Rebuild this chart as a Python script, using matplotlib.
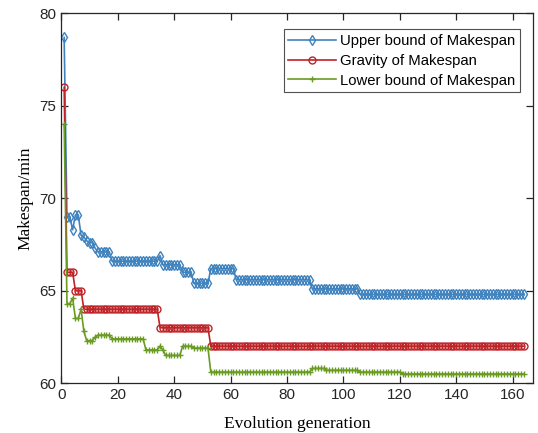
import matplotlib
matplotlib.use('Agg')
import matplotlib.pyplot as plt
import numpy as np

# run-length values (value, number of generations)
upper_vals = [78.7, 69.0, 69.0, 68.3, 69.1, 69.1, 68.0, 67.9, 67.7, 67.6, 67.6, 67.3,
              67.1, 66.6, 66.9, 66.4, 66.0, 65.4, 66.2, 65.6, 65.1, 64.8]
upper_counts = [1, 1, 1, 1, 1, 1, 1, 1, 1, 1, 1, 1,
                5, 17, 1, 7, 4, 6, 9, 27, 17, 59]

gravity_vals = [76.0, 66.0, 65.0, 64.0, 63.0, 62.0]
gravity_counts = [1, 3, 3, 27, 18, 112]

lower_vals = [74.0, 64.3, 64.3, 64.6, 63.5, 63.5, 64.0, 62.8, 62.3, 62.5, 62.6, 62.4,
              61.8, 62.0, 61.8, 61.5, 62.0, 61.9, 60.6, 60.8, 60.7, 60.6, 60.5]
lower_counts = [1, 1, 1, 1, 1, 1, 1, 1, 3, 1, 5, 12,
                5, 1, 1, 6, 4, 6, 36, 5, 12, 15, 44]

x_ticks = [0, 20, 40, 60, 80, 100, 120, 140, 160]
y_ticks = [60, 65, 70, 75, 80]

upper = np.repeat(upper_vals, upper_counts)
gravity = np.repeat(gravity_vals, gravity_counts)
lower = np.repeat(lower_vals, lower_counts)
gens = np.arange(1, len(upper) + 1)

plt.rcParams['font.family'] = 'Liberation Sans'
fig = plt.figure(figsize=(5.38, 4.33), dpi=100)
fig.patch.set_facecolor('white')
ax = fig.add_axes([0.114, 0.115, 0.877, 0.854])

ax.plot(gens, upper, color='#3E82BE', lw=1.2, marker='d', ms=5.5, mfc='none', mew=1.0,
        label='Upper bound of Makespan')
ax.plot(gens, gravity, color='#BE2328', lw=1.2, marker='o', ms=5, mfc='none', mew=1.0,
        label='Gravity of Makespan')
ax.plot(gens, lower, color='#6A9B23', lw=1.2, marker='+', ms=5, mew=1.0,
        label='Lower bound of Makespan')

ax.set_xlim(0, 167.3)
ax.set_ylim(60, 80)
ax.set_xticks(x_ticks)
ax.set_yticks(y_ticks)
ax.tick_params(direction='in', top=True, right=True, length=5, width=0.9,
               labelsize=11, colors='#262626')
for s in ax.spines.values():
    s.set_linewidth(0.9)
    s.set_color('#262626')

ax.set_xlabel('Evolution generation', family='Liberation Serif', fontsize=12.5, labelpad=10)
ax.set_ylabel('Makespan/min', family='Liberation Serif', fontsize=12.5, labelpad=4)

leg = ax.legend(loc='upper right', bbox_to_anchor=(0.972, 0.957), fontsize=10.7,
                handlelength=3.2, fancybox=False, edgecolor='#262626',
                borderpad=0.3, labelspacing=0.4, handletextpad=0.3, borderaxespad=0.0)
leg.get_frame().set_linewidth(0.8)

fig.savefig('out.png', dpi=100)
